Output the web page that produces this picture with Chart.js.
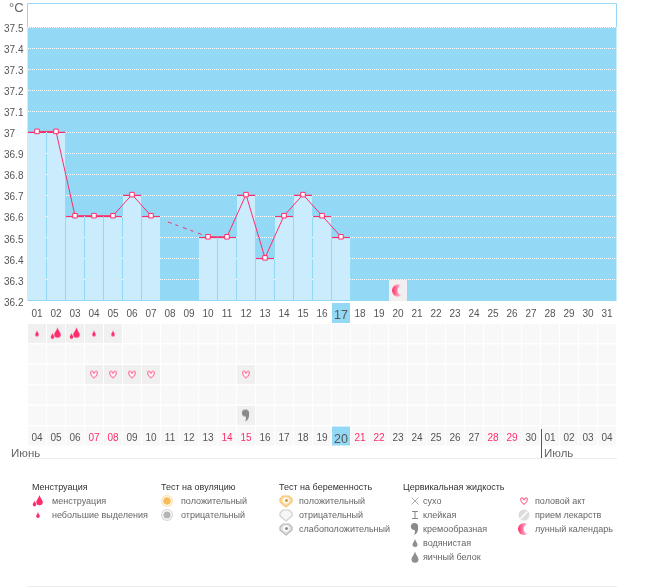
<!DOCTYPE html>
<html lang="ru"><head><meta charset="utf-8">
<script src="https://cdn.jsdelivr.net/npm/chart.js@4"></script>
<style>
html,body{margin:0;padding:0;background:#fff;overflow:hidden}
#wrap{position:relative;width:655px;height:587px;font-family:"Liberation Sans",Arial,sans-serif;font-size:9px;color:#666}
#wrap canvas.main{position:absolute;left:0;top:0}
.t{position:absolute;white-space:nowrap;line-height:14px;transform:translateY(-7px)}
.h{color:#333}
.r{position:absolute;background:#ececec;height:1px}
.ic{position:absolute;transform:translate(-8px,-8px)}
</style></head><body><div id="wrap"><canvas class="main" id="c" width="655" height="587"></canvas></div>
<script>
const cycleDays=['01','02','03','04','05','06','07','08','09','10','11','12','13','14','15','16','17','18','19','20','21','22','23','24','25','26','27','28','29','30','31'];
const calendarDays=['04','05','06','07','08','09','10','11','12','13','14','15','16','17','18','19','20','21','22','23','24','25','26','27','28','29','30','01','02','03','04'];
const weekendIndexes=[3,4,10,11,17,18,24,25];
const temperatures=[37,37,36.6,36.6,36.6,36.7,36.6,null,null,36.5,36.5,36.7,36.4,36.6,36.7,36.6,36.5,null,null,null,null,null,null,null,null,null,null,null,null,null,null];
const temperatureTicks=[36.2,36.3,36.4,36.5,36.6,36.7,36.8,36.9,37,37.1,37.2,37.3,37.4,37.5];
const lightFlowDays=['01','04','05'];
const heavyFlowDays=['02','03'];
const intercourseDays=['04','05','06','07','12'];
const creamyDays=['12'];
const moonDays=['20'];
const todayIndex=16;

const RED='#ff2d6b',SKY='#93d9f5',PALE='#cbecfd',CELL='#f9f8f9',CELL_ON='#f1f0f1';
const TOP=9,BOTTOM=447,Y375=27,Y362=301,PPD=(Y362-Y375)/1.3;
const tempRange=s=>({min:36.2-(BOTTOM-Y362-s)/PPD,max:36.2+(Y362+s-TOP)/PPD});
const R0=333.5,RS=20.5;
const rowScale={min:(TOP-R0)/RS,max:(BOTTOM-R0)/RS};

function icon(draw,size=16){const c=document.createElement('canvas');c.width=size;c.height=size;const g=c.getContext('2d');draw(g,size/2);return c;}
function drop(g,x,y,w,h,col){g.fillStyle=col;g.beginPath();g.moveTo(x,y-h/2);g.bezierCurveTo(x+w*.2,y-h*.1,x+w/2,y,x+w/2,y+h*.2);g.arc(x,y+h*.2,w/2,0,Math.PI);g.bezierCurveTo(x-w/2,y,x-w*.2,y-h*.1,x,y-h/2);g.fill();}
const icons={
 light:()=>icon((g,m)=>drop(g,m,m,3.6,6,RED)),
 heavy:()=>icon((g,m)=>{drop(g,m+1.5,m-1,6.5,10,RED);drop(g,m-3.5,m+2.5,3.6,5.5,RED);}),
 heart:()=>icon((g,m)=>{g.translate(m,m);g.scale(.85,.85);g.translate(-m,-m);g.strokeStyle='#ff5c8a';g.fillStyle='#fff';g.lineWidth=1.2;g.beginPath();g.moveTo(m,m+4);g.bezierCurveTo(m-6,m-.5,m-4,m-4.5,m-2,m-3.5);g.quadraticCurveTo(m-.7,m-3,m,m-1.5);g.quadraticCurveTo(m+.7,m-3,m+2,m-3.5);g.bezierCurveTo(m+4,m-4.5,m+6,m-.5,m,m+4);g.closePath();g.fill();g.stroke();}),
 creamy:()=>icon((g,m)=>{g.fillStyle='#8a8a8a';g.beginPath();g.arc(m-.5,m-2.5,3.6,0,7);g.fill();g.beginPath();g.moveTo(m+3,m-3);g.quadraticCurveTo(m+4,m+4,m-1,m+6);g.quadraticCurveTo(m+1,m+2,m-1,m);g.fill();}),
 moon:()=>icon((g,m)=>{const r=g.createLinearGradient(m-6,0,m+3,0);r.addColorStop(0,'#ff2d6b');r.addColorStop(1,'#ffc4d6');g.fillStyle=r;g.beginPath();g.arc(m,m,6,0,7);g.fill();g.globalCompositeOperation='destination-out';g.beginPath();g.arc(m+4.5,m,5,0,7);g.fill();}),
 ovPos:()=>icon((g,m)=>{g.fillStyle='#fbe3b0';g.beginPath();g.arc(m,m,6,0,7);g.fill();g.fillStyle='#fff';g.beginPath();g.arc(m,m,4.8,0,7);g.fill();g.fillStyle='#f7bd5c';g.beginPath();g.arc(m,m,3.8,0,7);g.fill();}),
 ovNeg:()=>icon((g,m)=>{g.fillStyle='#d8d8d8';g.beginPath();g.arc(m,m,6,0,7);g.fill();g.fillStyle='#fff';g.beginPath();g.arc(m,m,4.8,0,7);g.fill();g.fillStyle='#b5b5b5';g.beginPath();g.arc(m,m,3.6,0,7);g.fill();}),
 prPos:()=>icon((g,m)=>shield(g,m,'#f7c26a','#fbe0ad','#d99a3c')),
 prNeg:()=>icon((g,m)=>shield(g,m,'#cfcfcf','#f6f6f6',null)),
 prWeak:()=>icon((g,m)=>shield(g,m,'#b8b8b8','#e2e2e2','#8f8f8f')),
 dry:()=>icon((g,m)=>{g.strokeStyle='#999';g.lineWidth=.8;g.beginPath();g.moveTo(m-3.5,m-3.5);g.lineTo(m+3.5,m+3.5);g.moveTo(m+3.5,m-3.5);g.lineTo(m-3.5,m+3.5);g.stroke();}),
 sticky:()=>icon((g,m)=>{g.strokeStyle='#888';g.lineWidth=1;g.beginPath();g.moveTo(m-3,m-3.5);g.lineTo(m+3,m-3.5);g.moveTo(m,m-3.5);g.lineTo(m,m+3.5);g.moveTo(m-3,m+3.5);g.lineTo(m+3,m+3.5);g.stroke();}),
 water:()=>icon((g,m)=>drop(g,m,m,5,8,'#8f8f8f')),
 egg:()=>icon((g,m)=>drop(g,m,m,7,11,'#8f8f8f')),
 pill:()=>icon((g,m)=>{g.fillStyle='#dcdcdc';g.beginPath();g.arc(m,m,5.5,0,7);g.fill();g.strokeStyle='#fff';g.lineWidth=1.6;g.beginPath();g.moveTo(m-3.5,m+3.5);g.lineTo(m+3.5,m-3.5);g.stroke();})
};
function shield(g,m,edge,fill,dot){g.fillStyle=fill;g.strokeStyle=edge;g.lineWidth=1.2;g.beginPath();g.moveTo(m-6,m-2);g.lineTo(m-3,m-5);g.lineTo(m+3,m-5);g.lineTo(m+6,m-2);g.lineTo(m+6,m+1);g.lineTo(m,m+6);g.lineTo(m-6,m+1);g.closePath();g.fill();g.stroke();if(dot){g.fillStyle='#fff';g.beginPath();g.arc(m,m-.5,3,0,7);g.fill();g.fillStyle=dot;g.beginPath();g.arc(m+.5,m-.5,1.6,0,7);g.fill();}}

const cellRow=(r,active=[])=>({type:'bar',order:9,yAxisID:'yRows',grouped:false,barPercentage:18/19,categoryPercentage:1,
  data:cycleDays.map(()=>[r-.46,r+.46]),
  backgroundColor:cycleDays.map(d=>active.includes(d)?CELL_ON:CELL)});
const marks=(days,row,style,yAxisID='yRows')=>({type:'line',order:1,showLine:false,yAxisID,clip:false,
  data:days.map(d=>({x:d,y:row})),pointStyle:style,pointRadius:8,pointHoverRadius:8});

const frame={id:'frame',
 beforeDraw(ch){const {ctx,chartArea:a,scales:s}=ch;ctx.save();ctx.fillStyle=SKY;const t=s.yGrid.getPixelForValue(37.5),b=s.yGrid.getPixelForValue(36.2);ctx.fillRect(a.left,t,a.right-a.left,b-t);ctx.strokeStyle=SKY;ctx.lineWidth=1;ctx.beginPath();ctx.moveTo(a.left,t);ctx.lineTo(a.left,3.5);ctx.lineTo(a.right,3.5);ctx.lineTo(a.right,t);ctx.stroke();ctx.restore();},
 afterDraw(ch){const {ctx,scales:s}=ch;const x=Math.round((s.x2.getPixelForTick(26)+s.x2.getPixelForTick(27))/2)+.5;ctx.save();ctx.strokeStyle='#555';ctx.lineWidth=1;ctx.beginPath();ctx.moveTo(x,429);ctx.lineTo(x,458);ctx.stroke();ctx.fillStyle='#fff';ctx.beginPath();const c=s.x2.getPixelForTick(todayIndex);ctx.moveTo(c-2,447);ctx.lineTo(c+2,447);ctx.lineTo(c,445);ctx.fill();ctx.restore();}
};
const fixedTicks=s=>{s.ticks=temperatureTicks.map(v=>({value:v}));};
const noPad=s=>{s.paddingTop=0;s.paddingBottom=0;s.paddingLeft=0;s.paddingRight=0;};
const tickFont={family:'"Liberation Sans",Arial,sans-serif',size:10};

const chart=new Chart(document.getElementById('c'),{
 data:{labels:cycleDays,datasets:[
  {type:'line',order:0,yAxisID:'yData',data:temperatures,spanGaps:true,borderColor:RED,borderWidth:1,tension:0,
   pointStyle:'rect',pointRadius:3.2,pointHoverRadius:3.2,pointBackgroundColor:'#fff',pointBorderColor:RED,pointBorderWidth:1,
   segment:{borderDash:c=>c.p0.skip||c.p1.skip||Math.abs(c.p1.parsed.x-c.p0.parsed.x)>1?[0,18,4,4,3,5,4,4,3,5,4,4,3,5,4,30]:undefined}},
  {type:'bar',order:5,yAxisID:'yData',grouped:false,data:temperatures,base:36.2,barPercentage:18/19,categoryPercentage:1,backgroundColor:PALE,borderColor:RED,borderWidth:{top:1.5,left:0,right:0,bottom:0},borderSkipped:false},
  {type:'bar',order:6,yAxisID:'yGrid',grouped:false,data:cycleDays.map(d=>moonDays.includes(d)?[36.2,36.3]:null),barPercentage:18/19,categoryPercentage:1,backgroundColor:CELL_ON},
  {type:'bar',order:6,yAxisID:'yRows',grouped:false,data:cycleDays.map((d,i)=>i===todayIndex?[-1.49,-.51]:null),barPercentage:18/19,categoryPercentage:1,backgroundColor:SKY},
  cellRow(0,lightFlowDays.concat(heavyFlowDays)),cellRow(1),cellRow(2,intercourseDays),cellRow(3),cellRow(4,creamyDays),
  {...cellRow(5),backgroundColor:cycleDays.map((d,i)=>i===todayIndex?SKY:CELL)},
  marks(lightFlowDays,0,icons.light()),marks(heavyFlowDays,0,icons.heavy()),
  marks(intercourseDays,2,icons.heart()),marks(creamyDays,4,icons.creamy()),
  marks(moonDays,36.25,icons.moon(),'yGrid')
 ]},
 options:{responsive:false,animation:false,devicePixelRatio:1,events:[],
  layout:{padding:{left:4,right:38.5,top:3,bottom:587-BOTTOM}},
  plugins:{legend:{display:false},tooltip:{enabled:false}},
  scales:{
   x:{type:'category',labels:cycleDays,offset:true,position:{yGrid:36.2},afterFit:noPad,grid:{display:false},border:{display:false},
      ticks:{z:2,autoSkip:false,maxRotation:0,padding:-1,color:'#555',font:c=>({...tickFont,size:c.index===todayIndex?12.5:10})}},
   x2:{type:'category',labels:calendarDays,offset:true,position:{yRows:5},afterFit:noPad,grid:{display:false},border:{display:false},
      ticks:{z:2,autoSkip:false,maxRotation:0,padding:-12,font:c=>({...tickFont,size:c.index===todayIndex?12.5:10}),
      color:c=>weekendIndexes.includes(c.index)?RED:'#555'}},
   y:{type:'linear',position:'left',...tempRange(2),afterBuildTicks:fixedTicks,afterFit:s=>{s.width=23.5;noPad(s);},grid:{display:false},border:{display:false},
      ticks:{crossAlign:'far',autoSkip:false,padding:0,color:'#555',font:{...tickFont,size:10},callback:v=>String(v)}},
   yGrid:{type:'linear',position:'left',...tempRange(0),afterBuildTicks:fixedTicks,afterFit:s=>{s.width=0;noPad(s);},
      grid:{color:'#fff',lineWidth:1,drawTicks:false},border:{display:false,dash:[1,1]},ticks:{display:false}},
   yData:{type:'linear',display:false,...tempRange(-1)},
   yRows:{type:'linear',display:false,reverse:true,...rowScale}
  }
 },
 plugins:[frame]
});

const wrap=document.getElementById('wrap');
const addText=(s,x,y,cls,css)=>{const e=document.createElement('div');e.className='t '+(cls||'');e.textContent=s;e.style.left=x+'px';e.style.top=y+'px';if(css)Object.assign(e.style,css);wrap.appendChild(e);};
const addIcon=(n,x,y)=>{const c=icons[n]();c.className='ic';c.style.left=x+'px';c.style.top=y+'px';wrap.appendChild(c);};
const addRule=(y)=>{const e=document.createElement('div');e.className='r';e.style.left='27px';e.style.width='590px';e.style.top=y+'px';wrap.appendChild(e);};
addText('°C',9,8,'',{fontSize:'13px',color:'#666'});
addText('Июнь',11,453,'',{fontSize:'11.5px'});
addText('Июль',544,453,'',{fontSize:'11.5px'});
addRule(458);addRule(586);
const legendHeads=[['Менструация',32],['Тест на овуляцию',161],['Тест на беременность',279],['Цервикальная жидкость',403]];
const legendItems=[
 ['менструация','heavy',38,52,501],['небольшие выделения','light',38,52,515],
 ['положительный','ovPos',167,181,501],['отрицательный','ovNeg',167,181,515],
 ['положительный','prPos',286,299,501],['отрицательный','prNeg',286,299,515],['слабоположительный','prWeak',286,299,529],
 ['сухо','dry',415,423,501],['клейкая','sticky',415,423,515],['кремообразная','creamy',415,423,529],['водянистая','water',415,423,543],['яичный белок','egg',415,423,557],
 ['половой акт','heart',524,535,501],['прием лекарств','pill',524,535,515],['лунный календарь','moon',524,535,529]];
legendHeads.forEach(([s,x])=>addText(s,x,487,'h'));
legendItems.forEach(([s,n,ix,x,y])=>{addIcon(n,ix,y);addText(s,x,y);});
</script></body></html>
